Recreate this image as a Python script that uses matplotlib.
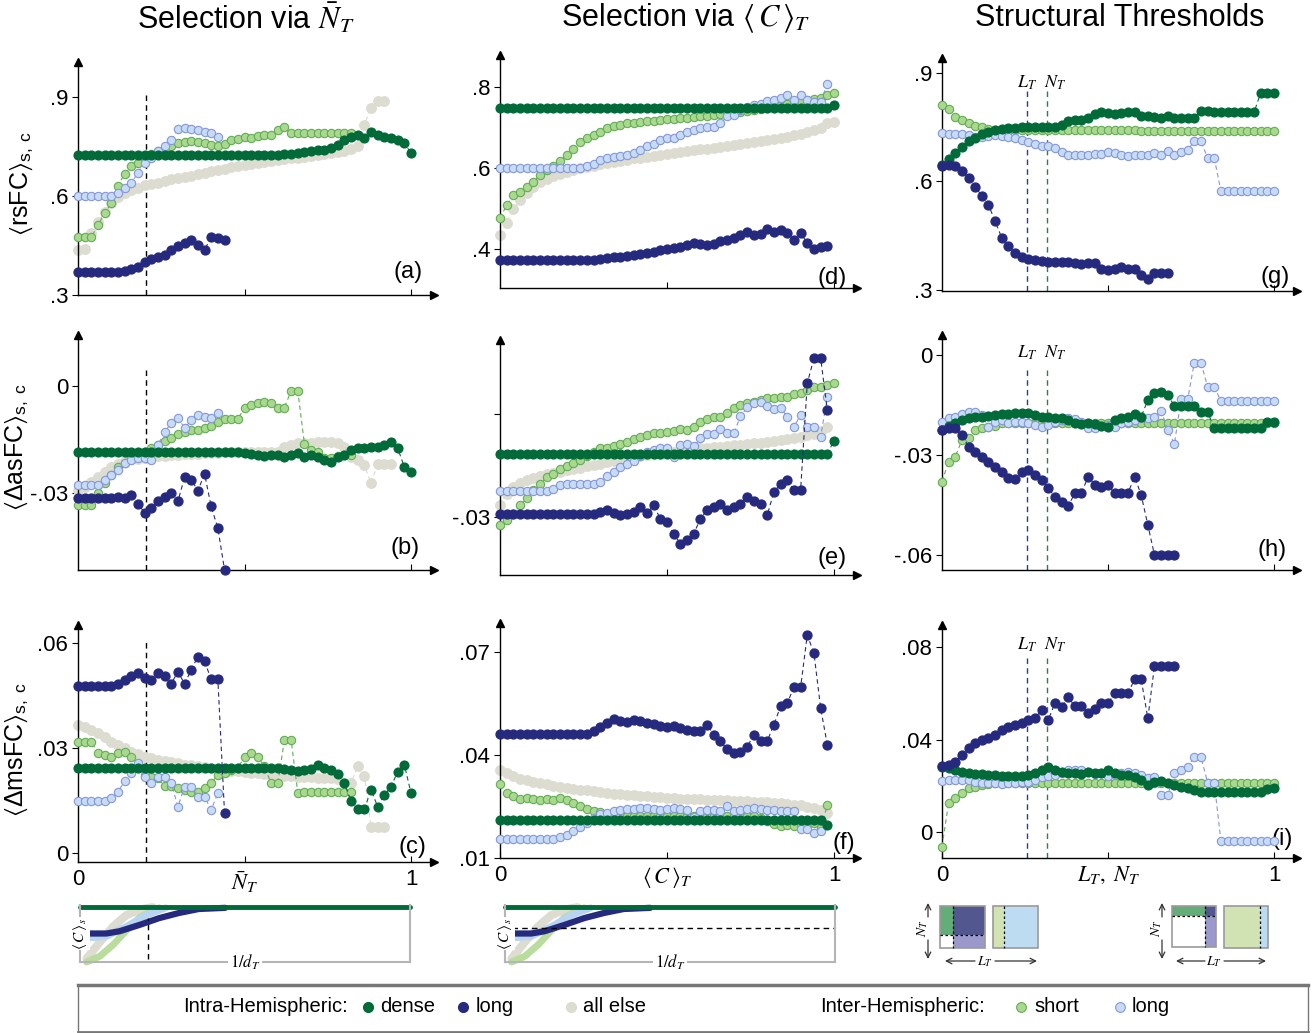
import numpy as np
import matplotlib
matplotlib.use("Agg")
import matplotlib.pyplot as plt
from matplotlib.patches import Rectangle

plt.rcParams['font.family'] = ['Liberation Sans', 'DejaVu Sans']
# serif italic symbols, sans for the quantity names
plt.rcParams['mathtext.fontset'] = 'custom'
plt.rcParams['mathtext.rm'] = 'STIXGeneral'
plt.rcParams['mathtext.it'] = 'STIXGeneral:italic'
plt.rcParams['mathtext.bf'] = 'STIXGeneral:bold'
plt.rcParams['mathtext.sf'] = 'Liberation Sans'
plt.rcParams['mathtext.fallback'] = 'stix'

# thresholds are sampled in steps of 0.02
thr = np.round(np.arange(51) * 0.02, 2)

# selected thresholds (dashed markers)
SEL_N = 0.205
L_T = 0.257
N_T = 0.315

# ---------- column 1: selection via mean N_T ----------
a_dense = [0.725, 0.725, 0.725, 0.725, 0.725, 0.725, 0.725, 0.725, 0.725, 0.725,
           0.725, 0.725, 0.725, 0.725, 0.725, 0.725, 0.725, 0.725, 0.725, 0.725,
           0.725, 0.725, 0.725, 0.725, 0.725, 0.725, 0.725, 0.725, 0.725, 0.725,
           0.725, 0.727, 0.728, 0.73, 0.732, 0.735, 0.74, 0.738, 0.745, 0.755,
           0.77, 0.78, 0.785, 0.775, 0.795, 0.785, 0.78, 0.775, 0.77, 0.76,
           0.73]
a_long = [0.371, 0.371, 0.371, 0.371, 0.371, 0.371, 0.371, 0.374, 0.38, 0.385,
          0.40, 0.41, 0.415, 0.42, 0.436, 0.447, 0.457, 0.467, 0.452, 0.436,
          0.477, 0.472, 0.467]
a_else = [0.436, 0.44, 0.487, 0.52, 0.553, 0.578, 0.598, 0.61, 0.618, 0.625,
          0.632, 0.636, 0.64, 0.645, 0.65, 0.654, 0.658, 0.662, 0.667, 0.671,
          0.675, 0.679, 0.683, 0.687, 0.691, 0.695, 0.698, 0.701, 0.704, 0.707,
          0.71, 0.712, 0.714, 0.716, 0.718, 0.72, 0.723, 0.726, 0.729, 0.732,
          0.735, 0.742, 0.75, 0.816, 0.867, 0.887, 0.887]
a_short = [0.475, 0.475, 0.475, 0.512, 0.548, 0.578, 0.63, 0.668, 0.69, 0.70,
           0.712, 0.728, 0.735, 0.745, 0.752, 0.76, 0.765, 0.767, 0.765, 0.76,
           0.755, 0.752, 0.758, 0.77, 0.772, 0.778, 0.775, 0.783, 0.785, 0.785,
           0.80, 0.808, 0.79, 0.79, 0.79, 0.79, 0.79, 0.79, 0.79, 0.79,
           0.79, 0.79]
a_ilong = [0.60, 0.60, 0.60, 0.60, 0.60, 0.60, 0.61, 0.624, 0.64, 0.67,
           0.70, 0.715, 0.735, 0.75, 0.77, 0.803, 0.806, 0.803, 0.799, 0.795,
           0.79, 0.78]

b_dense = [-0.0186, -0.0186, -0.0186, -0.0186, -0.0186, -0.0186, -0.0186, -0.0186, -0.0186, -0.0186,
           -0.0186, -0.0186, -0.0186, -0.0186, -0.0186, -0.0186, -0.0186, -0.0186, -0.0186, -0.0186,
           -0.0186, -0.0186, -0.0186, -0.0186, -0.0186, -0.0188, -0.0191, -0.0193, -0.0196, -0.0194,
           -0.0193, -0.0198, -0.0193, -0.0188, -0.0198, -0.0193, -0.0199, -0.0207, -0.0212, -0.0199,
           -0.0193, -0.0179, -0.0174, -0.0172, -0.017, -0.017, -0.0165, -0.0156, -0.0174, -0.0226,
           -0.024]
b_long = [-0.0314, -0.0314, -0.0314, -0.0314, -0.0314, -0.0314, -0.031, -0.0314, -0.0305, -0.033,
          -0.0354, -0.0342, -0.0323, -0.031, -0.030, -0.0323, -0.0255, -0.0262, -0.0293, -0.0246,
          -0.0337, -0.0398, -0.0514]
b_else = [-0.029, -0.0282, -0.0268, -0.0254, -0.024, -0.0226, -0.0217, -0.0209, -0.0205, -0.0203,
          -0.020, -0.0198, -0.0197, -0.0195, -0.0194, -0.0192, -0.0191, -0.019, -0.0189, -0.0188,
          -0.0187, -0.0187, -0.0186, -0.0186, -0.0185, -0.0185, -0.0185, -0.0184, -0.0184, -0.0184,
          -0.0184, -0.017, -0.0165, -0.016, -0.016, -0.0158, -0.0156, -0.0156, -0.0156, -0.0158,
          -0.017, -0.0198, -0.0207, -0.0221, -0.0272, -0.0217, -0.0217, -0.0217]
b_short = [-0.0333, -0.0333, -0.0333, -0.030, -0.0272, -0.0249, -0.0226, -0.0216, -0.0198, -0.0188,
           -0.0184, -0.0174, -0.0165, -0.0153, -0.0144, -0.0134, -0.0128, -0.0123, -0.0123, -0.0118,
           -0.0112, -0.010, -0.0093, -0.0093, -0.0093, -0.006, -0.0053, -0.0048, -0.0044, -0.0047,
           -0.0062, -0.006, -0.0013, -0.0013, -0.0162, -0.0179, -0.0184, -0.0202, -0.0202, -0.0196,
           -0.0193, -0.0193]
b_ilong = [-0.0277, -0.0277, -0.0277, -0.0277, -0.0263, -0.0249, -0.0235, -0.0216, -0.0207, -0.0202,
           -0.0202, -0.0207, -0.0165, -0.0128, -0.0104, -0.0088, -0.0118, -0.0095, -0.0081, -0.0086,
           -0.009, -0.0076]

c_dense = [0.0243, 0.0243, 0.0243, 0.0243, 0.0243, 0.0243, 0.0243, 0.0243, 0.0243, 0.0243,
           0.0243, 0.0243, 0.0243, 0.0243, 0.0243, 0.0243, 0.0243, 0.0243, 0.0243, 0.0243,
           0.0243, 0.0243, 0.0243, 0.0243, 0.0243, 0.0243, 0.0243, 0.0243, 0.0243, 0.0243,
           0.0243, 0.024, 0.0239, 0.0234, 0.0239, 0.024, 0.0253, 0.0243, 0.0239, 0.0227,
           0.020, 0.0148, 0.0126, 0.0126, 0.0181, 0.0133, 0.0167, 0.019, 0.0233, 0.0253,
           0.0172]
c_long = [0.0478, 0.0478, 0.0478, 0.0478, 0.0478, 0.0478, 0.0484, 0.0495, 0.0505, 0.0514,
          0.050, 0.0495, 0.0514, 0.0505, 0.0484, 0.0519, 0.0484, 0.0524, 0.0562, 0.0548,
          0.0497, 0.0497, 0.0116]
c_else = [0.0367, 0.0362, 0.0353, 0.0343, 0.0331, 0.0319, 0.031, 0.030, 0.029, 0.0284,
          0.0276, 0.0272, 0.0267, 0.0263, 0.026, 0.0257, 0.0253, 0.0251, 0.0248, 0.0246,
          0.0243, 0.024, 0.0238, 0.0236, 0.0234, 0.0232, 0.023, 0.0228, 0.0226, 0.0224,
          0.0222, 0.0221, 0.022, 0.0219, 0.0218, 0.0217, 0.0216, 0.0215, 0.0214, 0.0213,
          0.020, 0.020, 0.0248, 0.022, 0.0076, 0.0076, 0.0076]
c_short = [0.0319, 0.0319, 0.0319, 0.0286, 0.0281, 0.0276, 0.0286, 0.029, 0.0276, 0.0248,
           0.0224, 0.0219, 0.0214, 0.0191, 0.0191, 0.0186, 0.0181, 0.0176, 0.0176, 0.0186,
           0.020, 0.0224, 0.0229, 0.0238, 0.0243, 0.0276, 0.0286, 0.0276, 0.0248, 0.020,
           0.020, 0.0324, 0.0324, 0.0173, 0.0176, 0.0176, 0.0176, 0.0176, 0.0176, 0.0176,
           0.0176, 0.0176]
c_ilong = [0.0148, 0.0148, 0.0148, 0.0148, 0.0148, 0.0157, 0.0176, 0.0205, 0.0229, 0.0257,
           0.0219, 0.020, 0.0219, 0.0219, 0.020, 0.0133, 0.019, 0.019, 0.0162, 0.0162,
           0.0124, 0.0172]

# ---------- column 2: selection via <C>_T ----------
d_dense = [0.747, 0.747, 0.747, 0.747, 0.747, 0.747, 0.747, 0.747, 0.747, 0.747,
           0.747, 0.747, 0.747, 0.747, 0.747, 0.747, 0.747, 0.747, 0.747, 0.747,
           0.747, 0.747, 0.747, 0.747, 0.747, 0.747, 0.747, 0.747, 0.747, 0.747,
           0.747, 0.747, 0.747, 0.747, 0.747, 0.747, 0.747, 0.747, 0.747, 0.747,
           0.747, 0.747, 0.747, 0.747, 0.747, 0.747, 0.747, 0.747, 0.747, 0.747,
           0.755]
d_long = [0.372, 0.372, 0.372, 0.372, 0.372, 0.372, 0.372, 0.372, 0.372, 0.372,
          0.372, 0.372, 0.372, 0.372, 0.372, 0.375, 0.378, 0.38, 0.381, 0.382,
          0.385, 0.388, 0.39, 0.394, 0.398, 0.40, 0.402, 0.406, 0.41, 0.415,
          0.413, 0.41, 0.413, 0.419, 0.423, 0.427, 0.435, 0.443, 0.435, 0.437,
          0.449, 0.441, 0.446, 0.44, 0.422, 0.44, 0.415, 0.40, 0.406, 0.408]
d_else = [0.435, 0.464, 0.50, 0.521, 0.538, 0.554, 0.566, 0.574, 0.58, 0.586,
          0.591, 0.595, 0.599, 0.602, 0.605, 0.609, 0.612, 0.615, 0.618, 0.621,
          0.624, 0.626, 0.628, 0.63, 0.632, 0.634, 0.636, 0.639, 0.641, 0.644,
          0.646, 0.648, 0.65, 0.652, 0.654, 0.656, 0.659, 0.661, 0.664, 0.666,
          0.669, 0.672, 0.675, 0.677, 0.681, 0.685, 0.69, 0.695, 0.70, 0.71,
          0.714]
d_short = [0.476, 0.509, 0.533, 0.542, 0.554, 0.566, 0.583, 0.595, 0.605, 0.618,
           0.632, 0.648, 0.665, 0.675, 0.681, 0.69, 0.698, 0.703, 0.706, 0.71,
           0.712, 0.714, 0.716, 0.717, 0.718, 0.72, 0.722, 0.723, 0.724, 0.726,
           0.728, 0.729, 0.73, 0.733, 0.735, 0.737, 0.739, 0.741, 0.743, 0.745,
           0.747, 0.751, 0.755, 0.758, 0.761, 0.765, 0.768, 0.77, 0.772, 0.78,
           0.784]
d_ilong = [0.60, 0.60, 0.60, 0.60, 0.60, 0.60, 0.60, 0.60, 0.60, 0.60,
           0.60, 0.60, 0.60, 0.604, 0.61, 0.62, 0.626, 0.628, 0.63, 0.633,
           0.636, 0.645, 0.654, 0.66, 0.669, 0.673, 0.675, 0.681, 0.69, 0.695,
           0.70, 0.702, 0.702, 0.71, 0.728, 0.73, 0.743, 0.751, 0.755, 0.759,
           0.766, 0.767, 0.774, 0.78, 0.769, 0.78, 0.767, 0.763, 0.763, 0.808]

e_dense = [-0.0115, -0.0115, -0.0115, -0.0115, -0.0115, -0.0115, -0.0115, -0.0115, -0.0115, -0.0115,
           -0.0115, -0.0115, -0.0115, -0.0115, -0.0115, -0.0115, -0.0115, -0.0115, -0.0115, -0.0115,
           -0.0115, -0.0115, -0.0115, -0.0115, -0.0115, -0.0115, -0.0115, -0.0115, -0.0115, -0.0115,
           -0.0115, -0.0115, -0.0115, -0.0115, -0.0115, -0.0115, -0.0115, -0.0115, -0.0115, -0.0115,
           -0.0115, -0.0115, -0.0115, -0.0115, -0.0115, -0.0115, -0.0115, -0.0115, -0.0115, -0.0115,
           -0.0078]
e_long = [-0.0292, -0.0292, -0.0292, -0.0292, -0.0292, -0.0292, -0.0292, -0.0292, -0.0292, -0.0292,
          -0.0292, -0.0292, -0.0292, -0.0292, -0.0292, -0.0285, -0.028, -0.0288, -0.0295, -0.029,
          -0.0285, -0.0271, -0.0288, -0.0266, -0.0305, -0.0315, -0.0349, -0.0378, -0.0368, -0.0349,
          -0.0305, -0.028, -0.0271, -0.0261, -0.028, -0.0271, -0.0261, -0.0242, -0.0252, -0.0261,
          -0.0295, -0.0227, -0.0203, -0.0193, -0.0222, -0.0222, 0.009, 0.0163, 0.0163, 0.0012]
e_else = [-0.0266, -0.0232, -0.0212, -0.0202, -0.0193, -0.0185, -0.018, -0.0175, -0.0171, -0.0168,
          -0.0164, -0.016, -0.0156, -0.0152, -0.0148, -0.0144, -0.014, -0.0136, -0.0132, -0.0128,
          -0.0125, -0.0122, -0.012, -0.0117, -0.0115, -0.0113, -0.011, -0.0107, -0.0104, -0.0102,
          -0.010, -0.0098, -0.0096, -0.0095, -0.0093, -0.0091, -0.0089, -0.0087, -0.0085, -0.0083,
          -0.0081, -0.0078, -0.0075, -0.0072, -0.0069, -0.0066, -0.0062, -0.0057, -0.005, -0.0037]
e_short = [-0.0324, -0.031, -0.029, -0.0266, -0.0246, -0.0222, -0.0203, -0.0183, -0.0174, -0.0159,
           -0.015, -0.0143, -0.0135, -0.0123, -0.011, -0.010, -0.010, -0.0093, -0.0086, -0.0081,
           -0.0074, -0.0068, -0.0061, -0.0056, -0.0054, -0.0051, -0.0048, -0.0042, -0.0047, -0.0037,
           -0.0022, -0.0013, -0.0008, -0.0008, 0.0002, 0.0017, 0.0026, 0.0031, 0.0036, 0.0041,
           0.0046, 0.0046, 0.0049, 0.0051, 0.0058, 0.0062, 0.007, 0.008, 0.008, 0.0085,
           0.009]
e_ilong = [-0.0224, -0.0224, -0.0224, -0.0224, -0.0224, -0.0224, -0.0224, -0.0224, -0.0217, -0.0207,
           -0.0204, -0.0204, -0.0204, -0.0204, -0.0204, -0.0197, -0.0181, -0.0168, -0.0154, -0.0144,
           -0.0136, -0.0123, -0.011, -0.0105, -0.010, -0.010, -0.0124, -0.0091, -0.0088, -0.0094,
           -0.0071, -0.0057, -0.0057, -0.0042, -0.0054, -0.0056, -0.0006, 0.002, 0.0033, 0.0036,
           0.0023, 0.0016, 0.0019, -0.0008, -0.0037, -0.0003, -0.0037, -0.0037, -0.0066, 0.005]

f_dense = [0.0209, 0.0209, 0.0209, 0.0209, 0.0209, 0.0209, 0.0209, 0.0209, 0.0209, 0.0209,
           0.0209, 0.0209, 0.0209, 0.0209, 0.0209, 0.0209, 0.0209, 0.0209, 0.0209, 0.0209,
           0.0209, 0.0209, 0.0209, 0.0209, 0.0209, 0.0209, 0.0209, 0.0209, 0.0209, 0.0209,
           0.0209, 0.0209, 0.0209, 0.0209, 0.0209, 0.0209, 0.0209, 0.0209, 0.0209, 0.0209,
           0.0209, 0.0209, 0.0209, 0.0209, 0.0209, 0.0209, 0.0209, 0.0209, 0.0209, 0.0194]
f_long = [0.0461, 0.0461, 0.0461, 0.0461, 0.0461, 0.0461, 0.0461, 0.0461, 0.0461, 0.0461,
          0.0461, 0.0461, 0.0461, 0.0461, 0.0468, 0.048, 0.0492, 0.0503, 0.0499, 0.0496,
          0.0501, 0.0498, 0.0493, 0.0489, 0.0483, 0.048, 0.0482, 0.0477, 0.0472, 0.0468,
          0.0468, 0.0487, 0.0458, 0.0439, 0.0415, 0.0405, 0.0408, 0.0422, 0.0458, 0.0439,
          0.0439, 0.0487, 0.054, 0.055, 0.0596, 0.0596, 0.0748, 0.0695, 0.0535, 0.0429]
f_else = [0.0356, 0.0345, 0.0337, 0.0329, 0.0325, 0.0319, 0.0316, 0.0313, 0.031, 0.0306,
          0.0303, 0.030, 0.0298, 0.0296, 0.0294, 0.029, 0.0288, 0.0286, 0.0284, 0.0282,
          0.0281, 0.028, 0.0279, 0.0278, 0.0276, 0.0274, 0.0273, 0.0272, 0.0272, 0.0271,
          0.027, 0.0269, 0.0268, 0.0267, 0.0267, 0.0266, 0.0265, 0.0264, 0.0263, 0.0262,
          0.0261, 0.0259, 0.0258, 0.0256, 0.0254, 0.0252, 0.0248, 0.0245, 0.024, 0.0229]
f_short = [0.0313, 0.0289, 0.0279, 0.0271, 0.0274, 0.0271, 0.0269, 0.0271, 0.0267, 0.0274,
           0.0267, 0.0259, 0.025, 0.0242, 0.0235, 0.0232, 0.0228, 0.023, 0.0225, 0.0222,
           0.0222, 0.0222, 0.0222, 0.0222, 0.0222, 0.0222, 0.0222, 0.0222, 0.0222, 0.0222,
           0.0222, 0.0222, 0.0222, 0.0222, 0.0222, 0.0222, 0.0222, 0.0222, 0.0222, 0.0215,
           0.0206, 0.0197, 0.0192, 0.0194, 0.0192, 0.0197, 0.0194, 0.0201, 0.0187, 0.0252]
f_ilong = [0.0155, 0.0155, 0.0155, 0.0155, 0.0155, 0.0155, 0.0155, 0.0155, 0.0155, 0.016,
           0.0167, 0.0177, 0.019, 0.0201, 0.0216, 0.0226, 0.023, 0.0235, 0.024, 0.0242,
           0.0242, 0.0245, 0.0245, 0.0242, 0.024, 0.0242, 0.0245, 0.0243, 0.024, 0.0219,
           0.0235, 0.024, 0.0238, 0.0235, 0.025, 0.0235, 0.024, 0.0242, 0.0245, 0.0242,
           0.024, 0.0238, 0.0235, 0.0235, 0.0235, 0.0184, 0.0182, 0.0172, 0.0177]

# ---------- column 3: structural thresholds ----------
g_dense = [0.644, 0.661, 0.679, 0.696, 0.711, 0.72, 0.73, 0.736, 0.742, 0.745,
           0.747, 0.748, 0.75, 0.751, 0.751, 0.75, 0.751, 0.751, 0.757, 0.766,
           0.769, 0.771, 0.776, 0.785, 0.791, 0.789, 0.785, 0.788, 0.791, 0.791,
           0.782, 0.78, 0.778, 0.776, 0.78, 0.776, 0.776, 0.776, 0.776, 0.794,
           0.794, 0.791, 0.791, 0.791, 0.791, 0.791, 0.791, 0.791, 0.845, 0.845,
           0.845]
g_long = [0.642, 0.644, 0.642, 0.63, 0.608, 0.585, 0.56, 0.535, 0.49, 0.444,
          0.421, 0.403, 0.392, 0.386, 0.383, 0.38, 0.377, 0.377, 0.378, 0.377,
          0.374, 0.371, 0.375, 0.374, 0.357, 0.355, 0.357, 0.362, 0.359, 0.357,
          0.34, 0.329, 0.348, 0.348, 0.348]
g_short = [0.812, 0.799, 0.778, 0.771, 0.762, 0.754, 0.751, 0.745, 0.743, 0.742,
           0.742, 0.742, 0.742, 0.742, 0.742, 0.742, 0.742, 0.742, 0.742, 0.742,
           0.742, 0.742, 0.742, 0.742, 0.742, 0.742, 0.742, 0.742, 0.742, 0.742,
           0.74, 0.74, 0.74, 0.74, 0.74, 0.74, 0.74, 0.74, 0.74, 0.74,
           0.74, 0.74, 0.74, 0.74, 0.74, 0.74, 0.74, 0.74, 0.74, 0.74,
           0.74]
g_ilong = [0.734, 0.732, 0.732, 0.732, 0.727, 0.723, 0.723, 0.725, 0.727, 0.725,
           0.723, 0.72, 0.714, 0.708, 0.702, 0.697, 0.699, 0.693, 0.681, 0.674,
           0.672, 0.674, 0.674, 0.676, 0.677, 0.681, 0.679, 0.674, 0.67, 0.672,
           0.674, 0.674, 0.679, 0.674, 0.684, 0.674, 0.681, 0.688, 0.711, 0.711,
           0.665, 0.665, 0.573, 0.573, 0.573, 0.573, 0.573, 0.573, 0.573, 0.573,
           0.573]

h_dense = [-0.0225, -0.0213, -0.0203, -0.0195, -0.019, -0.0187, -0.0185, -0.0183, -0.018, -0.0177,
           -0.0177, -0.0175, -0.0173, -0.0175, -0.018, -0.0185, -0.0187, -0.019, -0.019, -0.0195,
           -0.0205, -0.0207, -0.0203, -0.0207, -0.0213, -0.0215, -0.0195, -0.019, -0.0185, -0.0177,
           -0.0185, -0.0135, -0.0115, -0.011, -0.012, -0.0153, -0.0153, -0.0153, -0.0153, -0.017,
           -0.017, -0.022, -0.022, -0.022, -0.022, -0.022, -0.022, -0.022, -0.022, -0.02,
           -0.02]
h_long = [-0.0225, -0.022, -0.022, -0.024, -0.0275, -0.029, -0.0305, -0.032, -0.0335, -0.035,
          -0.037, -0.0373, -0.035, -0.0345, -0.036, -0.0375, -0.040, -0.0425, -0.044, -0.0453,
          -0.0415, -0.0415, -0.0365, -0.039, -0.0395, -0.039, -0.0415, -0.0415, -0.0415, -0.0365,
          -0.042, -0.051, -0.060, -0.060, -0.060, -0.060]
h_short = [-0.038, -0.032, -0.0305, -0.0255, -0.025, -0.0225, -0.022, -0.0217, -0.0213, -0.0205,
           -0.0205, -0.0205, -0.0205, -0.0205, -0.0205, -0.0205, -0.0205, -0.0205, -0.0205, -0.0205,
           -0.0205, -0.0205, -0.0205, -0.0205, -0.0205, -0.0205, -0.0205, -0.0205, -0.0205, -0.0205,
           -0.0205, -0.0205, -0.0205, -0.0205, -0.0205, -0.0205, -0.0205, -0.0205, -0.0205, -0.0205,
           -0.0205, -0.0205, -0.0205, -0.0205, -0.0205, -0.0205, -0.0205, -0.0205, -0.0205, -0.0205,
           -0.0205]
h_ilong = [-0.020, -0.019, -0.0185, -0.0177, -0.017, -0.017, -0.018, -0.0215, -0.020, -0.0195,
           -0.0205, -0.020, -0.020, -0.0203, -0.021, -0.0215, -0.021, -0.020, -0.0195, -0.019,
           -0.0193, -0.020, -0.022, -0.022, -0.0213, -0.021, -0.0215, -0.0205, -0.020, -0.0195,
           -0.019, -0.019, -0.0187, -0.0167, -0.0225, -0.0267, -0.0133, -0.0133, -0.0023, -0.0023,
           -0.0095, -0.0095, -0.0138, -0.0138, -0.0138, -0.0138, -0.0138, -0.0138, -0.0138, -0.0138,
           -0.0138]

i_dense = [0.0282, 0.0275, 0.0267, 0.026, 0.0253, 0.025, 0.025, 0.0246, 0.0246, 0.0243,
           0.0243, 0.0241, 0.0241, 0.0246, 0.0256, 0.027, 0.0282, 0.0267, 0.026, 0.0256,
           0.0253, 0.025, 0.026, 0.0256, 0.0253, 0.0267, 0.0253, 0.0246, 0.0246, 0.0239,
           0.0224, 0.0202, 0.0217, 0.0221, 0.0213, 0.0202, 0.0192, 0.0188, 0.0181, 0.0173,
           0.0173, 0.0173, 0.0173, 0.0173, 0.0173, 0.0173, 0.0173, 0.0173, 0.0173, 0.0184,
           0.0188]
i_long = [0.0285, 0.0289, 0.0304, 0.0333, 0.0362, 0.0383, 0.0398, 0.0405, 0.0419, 0.0441,
          0.0456, 0.0463, 0.047, 0.0485, 0.0492, 0.0528, 0.0485, 0.0557, 0.0542, 0.0583,
          0.0545, 0.0545, 0.0516, 0.0531, 0.0557, 0.0557, 0.060, 0.060, 0.060, 0.0661,
          0.0661, 0.0492, 0.0719, 0.0719, 0.0719, 0.0719]
i_short = [-0.0065, 0.0126, 0.0145, 0.0169, 0.0188, 0.0195, 0.0202, 0.0207, 0.0213, 0.0213,
           0.0213, 0.0213, 0.0213, 0.0213, 0.0213, 0.0213, 0.0213, 0.0213, 0.0213, 0.0213,
           0.0213, 0.0213, 0.0213, 0.0213, 0.0213, 0.0213, 0.0213, 0.0213, 0.0213, 0.0213,
           0.0213, 0.0213, 0.0213, 0.0213, 0.0213, 0.0213, 0.0213, 0.0213, 0.0213, 0.0213,
           0.0213, 0.0213, 0.0213, 0.0213, 0.0213, 0.0213, 0.0213, 0.0213, 0.0213, 0.0213,
           0.0213]
i_ilong = [0.0221, 0.0224, 0.0224, 0.0224, 0.0224, 0.0217, 0.0213, 0.0213, 0.021, 0.0207,
           0.021, 0.0213, 0.0217, 0.0217, 0.0224, 0.0236, 0.0241, 0.0246, 0.0253, 0.0267,
           0.027, 0.0267, 0.026, 0.025, 0.0253, 0.0241, 0.0246, 0.0253, 0.026, 0.0256,
           0.0246, 0.0231, 0.0239, 0.0159, 0.0159, 0.0253, 0.027, 0.0282, 0.0325, 0.0325,
           0.0213, 0.0213, -0.0039, -0.0039, -0.0039, -0.0039, -0.0039, -0.0039, -0.0039, -0.0039,
           -0.0039]

# mean clustering vs 1/d_T sketches under columns 1 and 2
ins_dense_u = [0.0, 1.0]
ins_dense_v = [0.97, 0.97]
ins_long_u = [0.02, 0.08, 0.12, 0.18, 0.24, 0.30, 0.36, 0.44]
ins_long_v = [0.50, 0.50, 0.54, 0.65, 0.77, 0.86, 0.93, 0.95]
ins_else_u = [0.02, 0.06, 0.10, 0.14, 0.18, 0.22]
ins_else_v = [0.06, 0.35, 0.62, 0.82, 0.92, 0.96]
ins_short_u = [0.02, 0.06, 0.10, 0.14, 0.18, 0.24]
ins_short_v = [0.0, 0.10, 0.30, 0.55, 0.78, 0.95]
ins_ilong_u = [0.02, 0.08, 0.14, 0.20, 0.26]
ins_ilong_v = [0.42, 0.45, 0.62, 0.82, 0.95]
INS_C_LEVEL = 0.6

# colours
C_DENSE = '#006a38'
C_LONG = '#262a7e'
C_ELSE = '#dcdcd1'
C_SHORT_F, C_SHORT_E = '#a9d88e', '#62ac57'
C_ILONG_F, C_ILONG_E = '#c6dbf5', '#8796d6'

STYLES = {
    'else': dict(ms=6.8, mfc=C_ELSE, mec=C_ELSE, color=C_ELSE, zorder=2),
    'short': dict(ms=6.0, mfc=C_SHORT_F, mec=C_SHORT_E, mew=0.8, color=C_SHORT_E, zorder=3),
    'ilong': dict(ms=6.0, mfc=C_ILONG_F, mec=C_ILONG_E, mew=0.8, color=C_ILONG_E, zorder=4),
    'dense': dict(ms=6.3, mfc=C_DENSE, mec=C_DENSE, color=C_DENSE, zorder=5),
    'long': dict(ms=6.4, mfc=C_LONG, mec=C_LONG, color=C_LONG, zorder=6),
}

W, H = 1312, 1033
fig = plt.figure(figsize=(W / 100, H / 100), dpi=100)


def px_axes(left, top, right, bottom):
    return fig.add_axes([left / W, 1 - bottom / H, (right - left) / W, (bottom - top) / H])


def draw_series(ax, series):
    for key in ('else', 'short', 'ilong', 'dense', 'long'):
        vals = series[key]
        ax.plot(thr[:len(vals)], vals, marker='o', ls=(0, (4, 3)), lw=0.8,
                clip_on=False, **STYLES[key])


def style_axes(ax, ylim, ticks, labels, xlabels):
    ax.set_xlim(0, 1.07)
    ax.set_ylim(*ylim)
    ax.set_facecolor('none')
    ax.spines[['top', 'right']].set_visible(False)
    for s in ('left', 'bottom'):
        ax.spines[s].set_linewidth(1.0)
    ax.plot(1, 0, '>', color='k', ms=6, transform=ax.transAxes, clip_on=False)
    ax.plot(0, 1, '^', color='k', ms=6, transform=ax.transAxes, clip_on=False)
    ax.set_yticks(ticks, labels)
    ax.tick_params(axis='y', direction='out', length=4, width=0.8, labelsize=16, pad=3)
    if xlabels is None:
        ax.set_xticks([0.5, 1], ['', ''])
    else:
        ax.set_xticks([0, 0.5, 1], xlabels)
    ax.tick_params(axis='x', direction='in', length=4, width=0.8, labelsize=16, pad=5)


col_x0 = [78, 500, 942]
col_unit = [333, 334, 332]
rows = [[(62, 295), (335, 570), (625, 862)],
        [(55, 288), (340, 575), (623, 858)],
        [(58, 291), (335, 570), (625, 858)]]

panels = [
    [dict(s={'dense': a_dense, 'long': a_long, 'else': a_else, 'short': a_short, 'ilong': a_ilong},
          ylim=(0.3, 1.006), ticks=[0.3, 0.6, 0.9], labels=['.3', '.6', '.9'], tag='(a)', txy=(0.925, 0.10)),
     dict(s={'dense': b_dense, 'long': b_long, 'else': b_else, 'short': b_short, 'ilong': b_ilong},
          ylim=(-0.0515, 0.0143), ticks=[-0.03, 0], labels=['-.03', '0'], tag='(b)', txy=(0.918, 0.094)),
     dict(s={'dense': c_dense, 'long': c_long, 'else': c_else, 'short': c_short, 'ilong': c_ilong},
          ylim=(-0.0025, 0.0652), ticks=[0, 0.03, 0.06], labels=['0', '.03', '.06'], tag='(c)', txy=(0.94, 0.065))],
    [dict(s={'dense': d_dense, 'long': d_long, 'else': d_else, 'short': d_short, 'ilong': d_ilong},
          ylim=(0.304, 0.879), ticks=[0.4, 0.6, 0.8], labels=['.4', '.6', '.8'], tag='(d)', txy=(0.93, 0.045)),
     dict(s={'dense': e_dense, 'long': e_long, 'else': e_else, 'short': e_short, 'ilong': e_ilong},
          ylim=(-0.0469, 0.0216), ticks=[-0.03, 0], labels=['-.03', ''], tag='(e)', txy=(0.93, 0.072)),
     dict(s={'dense': f_dense, 'long': f_long, 'else': f_else, 'short': f_short, 'ilong': f_ilong},
          ylim=(0.0099, 0.0783), ticks=[0.01, 0.04, 0.07], labels=['.01', '.04', '.07'], tag='(f)', txy=(0.963, 0.065))],
    [dict(s={'dense': g_dense, 'long': g_long, 'else': [], 'short': g_short, 'ilong': g_ilong},
          ylim=(0.297, 0.941), ticks=[0.3, 0.6, 0.9], labels=['.3', '.6', '.9'], tag='(g)', txy=(0.937, 0.06)),
     dict(s={'dense': h_dense, 'long': h_long, 'else': [], 'short': h_short, 'ilong': h_ilong},
          ylim=(-0.0645, 0.006), ticks=[-0.06, -0.03, 0], labels=['-.06', '-.03', '0'], tag='(h)', txy=(0.929, 0.085)),
     dict(s={'dense': i_dense, 'long': i_long, 'else': [], 'short': i_short, 'ilong': i_ilong},
          ylim=(-0.0114, 0.0897), ticks=[0, 0.04, 0.08], labels=['0', '.04', '.08'], tag='(i)', txy=(0.957, 0.08))],
]

bottom_labels = [r'$\bar{N}_T$', r'$\langle\, C\, \rangle_T$', r'$L_T,\ N_T$']
axes = [[None] * 3 for _ in range(3)]
for c in range(3):
    for r in range(3):
        top, bot = rows[c][r]
        ax = px_axes(col_x0[c], top, col_x0[c] + 1.07 * col_unit[c], bot)
        p = panels[c][r]
        draw_series(ax, p['s'])
        xl = ['0', bottom_labels[c], '1'] if r == 2 else None
        style_axes(ax, p['ylim'], p['ticks'], p['labels'], xl)
        ax.text(p['txy'][0], p['txy'][1], p['tag'], transform=ax.transAxes,
                ha='center', va='center', fontsize=17)
        axes[c][r] = ax

# selected N_T in column 1
for ax, frac in zip(axes[0], [0.867, 0.864, 0.937]):
    ax.axvline(SEL_N, 0, frac, color='k', ls=(0, (4, 3)), lw=1, zorder=1)

# L_T and N_T thresholds in column 3
for ax, frac, ty in zip(axes[2], [0.863, 0.851, 0.871], [0.895, 0.925, 0.915]):
    ax.axvline(L_T, 0, frac, color='#2b3a9c', ls=(0, (4, 3)), lw=1, zorder=1)
    ax.axvline(N_T, 0, frac, color='#2e7f50', ls=(0, (4, 3)), lw=1, zorder=1)
    ax.text(L_T, ty, r'$L_T$', transform=ax.get_xaxis_transform(), ha='center', va='center', fontsize=13)
    ax.text(N_T + 0.025, ty, r'$N_T$', transform=ax.get_xaxis_transform(), ha='center', va='center', fontsize=13)

# column titles
fig.text(246 / W, 1 - 18 / H, r'Selection via $\bar{N}_T$', ha='center', va='center', fontsize=22)
fig.text(686 / W, 1 - 18 / H, r'Selection via $\langle\, C\, \rangle_T$', ha='center', va='center', fontsize=22)
fig.text(1120 / W, 1 - 18 / H, 'Structural Thresholds', ha='center', va='center', fontsize=22)

# y labels
ylabels = [r'$\left\langle \mathsf{rsFC} \right\rangle_{\mathsf{s,\ c}}$',
           r'$\left\langle \mathsf{\Delta asFC} \right\rangle_{\mathsf{s,\ c}}$',
           r'$\left\langle \mathsf{\Delta msFC} \right\rangle_{\mathsf{s,\ c}}$']
for lab, yc, xc in zip(ylabels, [183, 447, 750], [22, 17, 17]):
    fig.text(xc / W, 1 - yc / H, lab, rotation=90, ha='center', va='center', fontsize=18)

# small sketches of <C>_s against 1/d_T
for left, right, kind in ((80, 410, 'N'), (505, 835, 'C')):
    ax = px_axes(left, 905, right, 962)
    ax.set_xlim(0, 1)
    ax.set_ylim(0, 1)
    ax.set_xticks([])
    ax.set_yticks([])
    ax.spines['top'].set_visible(False)
    for s in ('left', 'right', 'bottom'):
        ax.spines[s].set_color('#b5b5b5')
        ax.spines[s].set_linewidth(1.5)
    ax.plot(ins_else_u, ins_else_v, color=C_ELSE, lw=6, solid_capstyle='round', clip_on=False)
    ax.plot(ins_short_u, ins_short_v, color='#b9dd9c', lw=5, solid_capstyle='round', clip_on=False)
    ax.plot(ins_ilong_u, ins_ilong_v, color='#b7d4f1', lw=5, solid_capstyle='round', clip_on=False)
    ax.plot(ins_long_u, ins_long_v, color=C_LONG, lw=4.5, solid_capstyle='round', clip_on=False)
    ax.plot(ins_dense_u, ins_dense_v, color=C_DENSE, lw=3.5, solid_capstyle='round', clip_on=False)
    if kind == 'N':
        ax.axvline(SEL_N, 0.05, 0.78, color='k', ls=(0, (4, 3)), lw=1)
    else:
        ax.axhline(INS_C_LEVEL, 0.02, 1, color='k', ls=(0, (4, 3)), lw=1)
    ax.text(0.0, 0.5, r'$\langle\, C\, \rangle_s$', rotation=90, transform=ax.transAxes,
            ha='center', va='center', fontsize=11,
            bbox=dict(fc='white', ec='none', pad=0.5))
    ax.text(0.5, 0.0, r'$1/d_T$', transform=ax.transAxes, ha='center', va='center', fontsize=12,
            bbox=dict(fc='white', ec='none', pad=1.5))

# schematic of the L_T / N_T partitions
sch = px_axes(900, 895, 1300, 975)
sch.set_xlim(900, 1300)
sch.set_ylim(975, 895)
sch.axis('off')


def block(x0, y0, x1, y1, fc):
    sch.add_patch(Rectangle((x0, y0), x1 - x0, y1 - y0, fc=fc, ec='none'))


def frame(x0, y0, x1, y1):
    sch.add_patch(Rectangle((x0, y0), x1 - x0, y1 - y0, fc='none', ec='#9a9a9a', lw=1.2))


def dash(xs, ys):
    sch.plot(xs, ys, color='k', ls=(0, (2, 2)), lw=0.9)


def arrow(x0, y0, x1, y1):
    sch.annotate('', xy=(x1, y1), xytext=(x0, y0),
                 arrowprops=dict(arrowstyle='->', lw=0.9, color='#333333', shrinkA=0, shrinkB=0))


G_BLK, N_BLK, LAV, LG, LB = '#63ad79', '#52578f', '#9b99cc', '#d1e2b3', '#bddcf2'
# first sketch
block(940, 906, 953, 935, G_BLK)
block(953, 906, 985, 935, N_BLK)
block(953, 935, 985, 948, LAV)
frame(940, 906, 985, 948)
dash([953, 953], [906, 948])
dash([940, 985], [935, 935])
block(993, 906, 1004, 948, LG)
block(1004, 906, 1038, 948, LB)
frame(993, 906, 1038, 948)
dash([1004, 1004], [906, 948])
# second sketch
block(1172, 906, 1205, 916, G_BLK)
block(1205, 906, 1216, 916, N_BLK)
block(1205, 916, 1216, 947, LAV)
frame(1172, 906, 1216, 947)
dash([1205, 1205], [906, 947])
dash([1172, 1216], [916, 916])
block(1224, 906, 1260, 948, LG)
block(1260, 906, 1268, 948, LB)
frame(1224, 906, 1268, 948)
dash([1260, 1260], [906, 948])

for xa, l0, l1, r0, r1, xl, xn in ((928, 975, 945, 995, 1037, 985, 923),
                                   (1162, 1205, 1176, 1224, 1266, 1214, 1157)):
    arrow(l0, 961, l1, 961)
    arrow(r0, 961, r1, 961)
    sch.text(xl, 962, r'$L_T$', ha='center', va='center', fontsize=10)
    arrow(xa, 917, xa, 903)
    arrow(xa, 940, xa, 959)
    sch.text(xn, 928, r'$N_T$', rotation=90, ha='center', va='center', fontsize=10)

# legend box
leg = px_axes(78, 985, 1308, 1032)
leg.set_xlim(78, 1308)
leg.set_ylim(1032, 985)
leg.set_xticks([])
leg.set_yticks([])
for s in leg.spines.values():
    s.set_color('#777777')
    s.set_linewidth(1.0)
leg.spines['top'].set_linewidth(2.5)
leg.spines['bottom'].set_linewidth(2.0)

LEG_Y = 1007
leg.text(183, LEG_Y, 'Intra-Hemispheric:', va='center', fontsize=14.5)
leg.text(820, LEG_Y, 'Inter-Hemispheric:', va='center', fontsize=14.5)
for xm, xt, key, name in ((368, 380, 'dense', 'dense'), (463, 476, 'long', 'long'),
                          (571, 583, 'else', 'all else'), (1021, 1034, 'short', 'short'),
                          (1120, 1132, 'ilong', 'long')):
    st = dict(STYLES[key])
    st.pop('zorder')
    st.pop('color')
    st['ms'] = 7
    leg.plot([xm], [LEG_Y], marker='o', ls='none', **st)
    leg.text(xt, LEG_Y, name, va='center', fontsize=14.5)

fig.savefig('out.png', dpi=100)
